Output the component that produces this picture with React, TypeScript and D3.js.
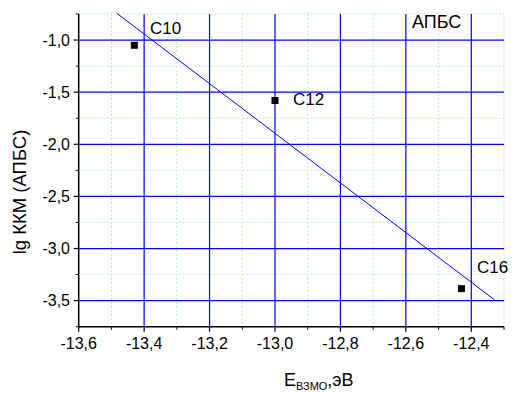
import React from "react";
import * as d3 from "d3";

const pointX = [-13.43, -13.0, -12.43];
const pointY = [-1.05, -1.58, -3.385];
const pointLabels = ["C10", "C12", "C16"];
const fitX = [-13.484, -12.33];
const fitY = [-0.742, -3.49];
const xMajor = [-13.6, -13.4, -13.2, -13.0, -12.8, -12.6, -12.4];
const xMinor = [-13.5, -13.3, -13.1, -12.9, -12.7, -12.5, -12.3];
const yMajor = [-1.0, -1.5, -2.0, -2.5, -3.0, -3.5];
const yMinor = [-0.75, -1.25, -1.75, -2.25, -2.75, -3.25, -3.75];

const W = 513, H = 394;
const L = 78.7, R = 504, T = 14, B = 326.7;
const FONT = "Arial, 'Liberation Sans', sans-serif";

export default function App() {
  const x = d3.scaleLinear().domain([-13.6, -12.3]).range([L, R]);
  const y = d3.scaleLinear().domain([-3.75, -0.75]).range([B, T]);
  const fmt = (v: number) => v.toFixed(1).replace(".", ",");
  const lineGen = d3.line<number>().x((d, i) => x(fitX[i])).y((d, i) => y(fitY[i]));
  const labelPos = [
    [150, 34], [293, 105], [477, 273],
  ];
  return (
    <svg width={W} height={H} style={{ position: "absolute", left: 0, top: 0, background: "#fff" }} fontFamily={FONT}>
      {/* minor grid */}
      {xMinor.map((v, i) => (
        <line key={"xm" + i} x1={x(v)} x2={x(v)} y1={T} y2={B} stroke="#b8f5b8" strokeWidth={1} strokeDasharray="2,2" />
      ))}
      {yMinor.map((v, i) => (
        <line key={"ym" + i} x1={L} x2={R} y1={y(v)} y2={y(v)} stroke="#b8f5b8" strokeWidth={1} strokeDasharray="2,2" />
      ))}
      {/* major grid */}
      {xMajor.slice(1).map((v, i) => (
        <line key={"xg" + i} x1={x(v)} x2={x(v)} y1={T} y2={B} stroke="#0000ff" strokeWidth={1.2} />
      ))}
      {yMajor.map((v, i) => (
        <line key={"yg" + i} x1={L} x2={R} y1={y(v)} y2={y(v)} stroke="#0000ff" strokeWidth={1.2} />
      ))}
      {/* fit line */}
      <path d={lineGen(fitX) || ""} fill="none" stroke="#0000ff" strokeWidth={1} />
      {/* points */}
      {pointX.map((v, i) => (
        <rect key={"p" + i} x={x(v) - 3.5} y={y(pointY[i]) - 3.5} width={7} height={7} fill="#000" />
      ))}
      {pointLabels.map((t, i) => (
        <text key={"pl" + i} x={labelPos[i][0]} y={labelPos[i][1]} fontSize={17} fill="#000">{t}</text>
      ))}
      <text x={412} y={28} fontSize={18} fill="#000">АПБС</text>
      {/* axes */}
      <line x1={L} x2={L} y1={T} y2={B + 0.5} stroke="#000" strokeWidth={1.5} />
      <line x1={L - 0.5} x2={R} y1={B} y2={B} stroke="#000" strokeWidth={1.5} />
      {xMajor.map((v, i) => (
        <g key={"xt" + i}>
          <line x1={x(v)} x2={x(v)} y1={B} y2={B + 5} stroke="#000" strokeWidth={1.2} />
          <text x={x(v)} y={349} fontSize={16} textAnchor="middle" fill="#000">{fmt(v)}</text>
        </g>
      ))}
      {xMinor.map((v, i) => (
        <line key={"xmt" + i} x1={x(v)} x2={x(v)} y1={B} y2={B + 3} stroke="#000" strokeWidth={1} />
      ))}
      {yMajor.map((v, i) => (
        <g key={"yt" + i}>
          <line x1={L - 5} x2={L} y1={y(v)} y2={y(v)} stroke="#000" strokeWidth={1.2} />
          <text x={70} y={y(v) + 5.5} fontSize={16} textAnchor="end" fill="#000">{fmt(v)}</text>
        </g>
      ))}
      {yMinor.map((v, i) => (
        <line key={"ymt" + i} x1={L - 3} x2={L} y1={y(v)} y2={y(v)} stroke="#000" strokeWidth={1} />
      ))}
      {/* axis titles */}
      <text transform={`translate(26,192) rotate(-90)`} fontSize={18.5} textAnchor="middle" fill="#000">lg ККМ (АПБС)</text>
      <text x={284} y={386} fontSize={18} fill="#000">
        E<tspan fontSize={11} dy={4}>ВЗМО</tspan><tspan dy={-4}>,эВ</tspan>
      </text>
    </svg>
  );
}
